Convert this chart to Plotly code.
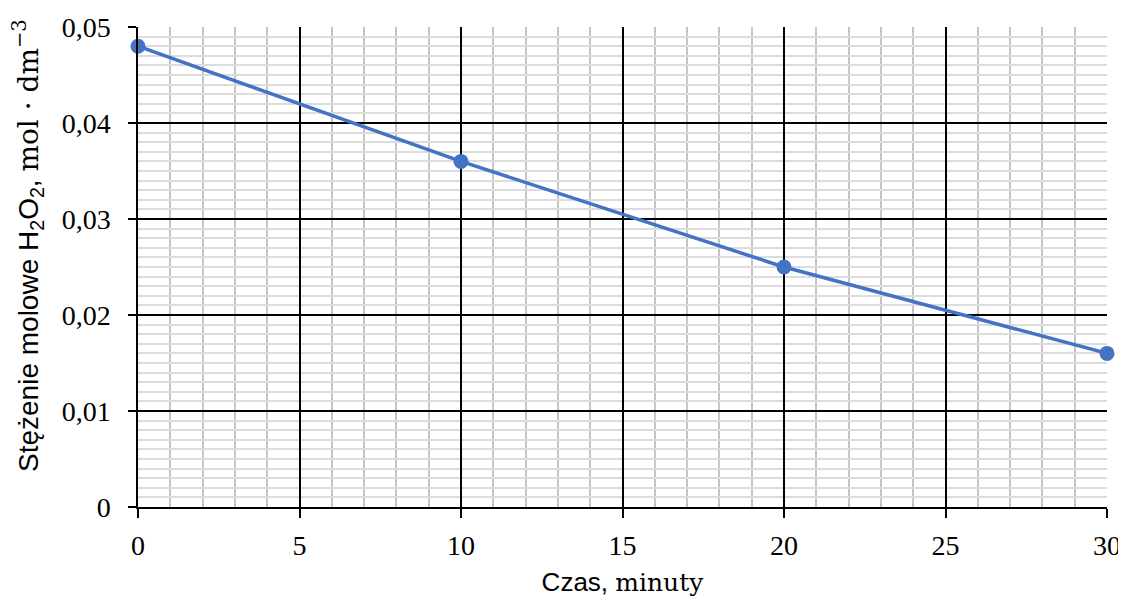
import plotly.graph_objects as go

# Data
time_min = [0, 10, 20, 30]
conc = [0.048, 0.036, 0.025, 0.016]

x_tick_vals = [0, 5, 10, 15, 20, 25, 30]
x_tick_labels = ["0", "5", "10", "15", "20", "25", "30"]
y_tick_vals = [0, 0.01, 0.02, 0.03, 0.04, 0.05]
y_tick_labels = ["0", "0,01", "0,02", "0,03", "0,04", "0,05"]

SERIF = "Liberation Serif"
SANS = "Liberation Sans"

# the page body adds an 8px offset; figure is sized to fit the window
W, H = 1118, 591
L, R, T, B = 130, 19, 19, 92
PW, PH = W - L - R, H - T - B

fig = go.Figure()
fig.add_trace(go.Scatter(
    x=time_min, y=conc, mode="lines+markers",
    line=dict(color="#4472C4", width=3.5),
    marker=dict(color="#4472C4", size=15),
    showlegend=False, cliponaxis=False,
))

fig.update_layout(
    width=W, height=H,
    margin=dict(l=L, r=R, t=T, b=B, autoexpand=False),
    paper_bgcolor="white", plot_bgcolor="white",
    font=dict(family=SERIF, color="black", size=28),
    xaxis=dict(
        range=[0, 30], tickvals=x_tick_vals, ticktext=x_tick_labels,
        automargin=False,
        showgrid=True, gridcolor="black", gridwidth=1.5,
        zeroline=False, showline=True, linecolor="black", linewidth=1.5,
        ticks="outside", ticklen=9, tickwidth=1.5, tickcolor="black",
        tickfont=dict(family=SERIF, size=28, color="black"),
        ticklabelstandoff=4,
        minor=dict(dtick=1, showgrid=True, gridcolor="#c4c4c4", gridwidth=1.8, ticks=""),
        title=dict(text="Czas, <span style=\"font-family:'DejaVu Serif';font-size:25px\">minuty</span>",
                   font=dict(family=SANS, size=26, color="black"), standoff=12),
    ),
    yaxis=dict(
        range=[0, 0.05], tickvals=y_tick_vals, ticktext=y_tick_labels,
        automargin=False,
        showgrid=True, gridcolor="black", gridwidth=1.5,
        zeroline=False, showline=True, linecolor="black", linewidth=1.5,
        ticks="outside", ticklen=8, tickwidth=1.5, tickcolor="black",
        tickfont=dict(family=SERIF, size=28, color="black"),
        ticklabelstandoff=12,
        minor=dict(dtick=0.001, showgrid=True, gridcolor="#dcdcdc", gridwidth=1.8, ticks=""),
    ),
)

fig.add_annotation(
    xref="paper", yref="paper", x=(20 - L) / PW, y=(PH + T - 238) / PH,
    xanchor="center", yanchor="middle", textangle=-90, showarrow=False,
    text="Stężenie molowe H<sub>2</sub>O<sub>2</sub>, "
         "<span style=\"font-family:'DejaVu Serif';font-size:28px\">mol · dm<sup>−3</sup></span>",
    font=dict(family=SANS, size=28, color="black"),
)

fig.write_html("out.html")
